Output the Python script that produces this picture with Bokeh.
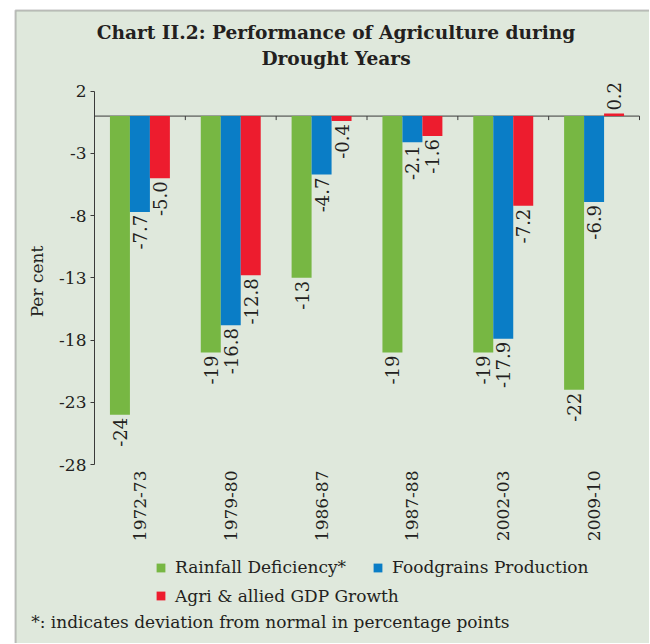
import math
from bokeh.plotting import figure
from bokeh.models import (Range1d, ColumnDataSource, Label, Legend, LegendItem,
                          FixedTicker, LinearAxis, BoxAnnotation)
from bokeh.transform import dodge
from bokeh.core.properties import value
from bokeh.embed import file_html
from bokeh.resources import INLINE

# ---- data ----
years = ["1972-73", "1979-80", "1986-87", "1987-88", "2002-03", "2009-10"]
rainfall = [-24, -19, -13, -19, -19, -22]
foodgrains = [-7.7, -16.8, -4.7, -2.1, -17.9, -6.9]
agri_gdp = [-5.0, -12.8, -0.4, -1.6, -7.2, 0.2]
y_ticks = [2, -3, -8, -13, -18, -23, -28]
series_names = ["Rainfall Deficiency*", "Foodgrains Production", "Agri & allied GDP Growth"]
title_lines = ["Chart II.2: Performance of Agriculture during", "Drought Years"]
y_label = "Per cent"
footnote = "*: indicates deviation from normal in percentage points"

# ---- styles / layout (page pixels) ----
BG = "#dfe8dc"
TXT = "#231f20"
AX = "#3a3a3a"
COLORS = ["#77b743", "#0a7dc6", "#ed1c2e"]
FONT = "DejaVu Serif"
ORG = 1                    # observed page offset of the canvas
W, H = 649, 643            # canvas size
PL, PR, PT, PB = 95, 640, 91.7, 465   # plot area edges on the page
YMIN, YMAX = min(y_ticks), max(y_ticks)

n = len(years)
xs = (PR - PL) / n
ys = (PB - PT) / (YMAX - YMIN)

def X(px):
    return (px - PL) / xs

def Y(py):
    return YMAX - (py - PT) / ys

centers = [i + 0.5 for i in range(n)]
bounds = list(range(n + 1))

rain_lbl = [f"{v:g}" for v in rainfall]
food_lbl = [f"{v:.1f}" for v in foodgrains]
agri_lbl = [f"{v:.1f}" for v in agri_gdp]

def aligns(vals):
    return ["right" if v < 0 else "left" for v in vals]

def offs(vals):
    return [3 if v < 0 else -3 for v in vals]

src = ColumnDataSource(dict(
    idx=centers,
    rain=rainfall, food=foodgrains, agri=agri_gdp,
    rain_lbl=rain_lbl, food_lbl=food_lbl, agri_lbl=agri_lbl,
    rain_al=aligns(rainfall), food_al=aligns(foodgrains), agri_al=aligns(agri_gdp),
    rain_off=offs(rainfall), food_off=offs(foodgrains), agri_off=offs(agri_gdp),
))

p = figure(x_range=Range1d(X(ORG), X(ORG + W)), y_range=Range1d(Y(ORG + H), Y(ORG)),
           width=W, height=H, output_backend="svg", toolbar_location=None,
           x_axis_location=None, y_axis_location=None, min_border=0,
           background_fill_color="white", border_fill_color="white", outline_line_color=None)
p.xgrid.grid_line_color = None
p.ygrid.grid_line_color = None

# panel background with dark left / top border
p.add_layout(BoxAnnotation(left=X(16), top=Y(11), right=X(700), bottom=Y(700),
                           fill_color=BG, fill_alpha=1, line_color="#3d3d3d", line_width=2,
                           level="underlay"))

# y axis
yax = LinearAxis(fixed_location=0, bounds=(YMIN, YMAX), ticker=FixedTicker(ticks=y_ticks),
                 major_label_overrides={t: str(t) for t in y_ticks},
                 axis_line_color=AX, major_tick_line_color=AX, major_tick_in=0, major_tick_out=4,
                 minor_tick_line_color=None, major_label_standoff=4,
                 major_label_text_font=FONT, major_label_text_font_size="17px",
                 major_label_text_color=TXT)
p.add_layout(yax, "left")

# x axis (category labels under the plot area)
xax = LinearAxis(fixed_location=YMIN, ticker=FixedTicker(ticks=centers),
                 major_label_overrides={c: y for c, y in zip(centers, years)},
                 axis_line_color=None, major_tick_line_color=None, minor_tick_line_color=None,
                 major_label_orientation=math.pi / 2, major_label_standoff=0,
                 major_label_text_font=FONT, major_label_text_font_size="17px",
                 major_label_text_color=TXT)
p.add_layout(xax, "below")

# zero line with category boundary ticks
p.segment(x0=bounds[0], y0=0, x1=bounds[-1], y1=0, line_color=AX, line_width=1)
p.ray(x=bounds, y=[0] * len(bounds), length=4, length_units="screen", angle=-math.pi / 2,
      line_color=AX, line_width=1)

offsets = [-0.22, 0.0, 0.22]
keys = ["rain", "food", "agri"]
renderers = []
for k, off, col in zip(keys, offsets, COLORS):
    r = p.vbar(x=dodge("idx", off), top=k, bottom=0, width=0.22,
               source=src, fill_color=col, line_color=None)
    renderers.append(r)
    p.text(x=dodge("idx", off), y=k, text=k + "_lbl", source=src,
           angle=math.pi / 2, text_align=k + "_al", text_baseline="middle",
           y_offset=k + "_off", text_font=value(FONT),
           text_font_size="18px", text_color=TXT)

leg1 = Legend(items=[LegendItem(label=series_names[0], renderers=[renderers[0]]),
                     LegendItem(label=series_names[1], renderers=[renderers[1]])],
              orientation="horizontal", location=(156 - ORG, ORG + H - 566.4 - 12))
leg2 = Legend(items=[LegendItem(label=series_names[2], renderers=[renderers[2]])],
              orientation="horizontal", location=(156 - ORG, ORG + H - 594.5 - 12))
for lg in (leg1, leg2):
    lg.glyph_width = 11
    lg.glyph_height = 11
    lg.label_standoff = 9
    lg.spacing = 26
    lg.padding = 0
    lg.margin = 0
    lg.label_height = 11
    lg.border_line_color = None
    lg.background_fill_alpha = 0
    lg.label_text_font = FONT
    lg.label_text_font_size = "17px"
    lg.label_text_color = TXT
    p.add_layout(lg)

def add_label(text, px, py, size, bold=False, angle=0.0, align="center", baseline="alphabetic"):
    p.add_layout(Label(x=X(px), y=Y(py), text=text,
                       text_font=FONT, text_font_size=size,
                       text_font_style="bold" if bold else "normal",
                       text_color=TXT, text_align=align, text_baseline=baseline, angle=angle))

add_label(title_lines[0], 336.5, 33.3, "18.6px", bold=True)
add_label(title_lines[1], 336.5, 58.8, "18.6px", bold=True)
add_label(y_label, 37, 282, "17px", angle=math.pi / 2, baseline="middle")
add_label(footnote, 31.7, 622, "17px", align="left", baseline="middle")

open("out.html", "w").write(file_html(p, INLINE))
